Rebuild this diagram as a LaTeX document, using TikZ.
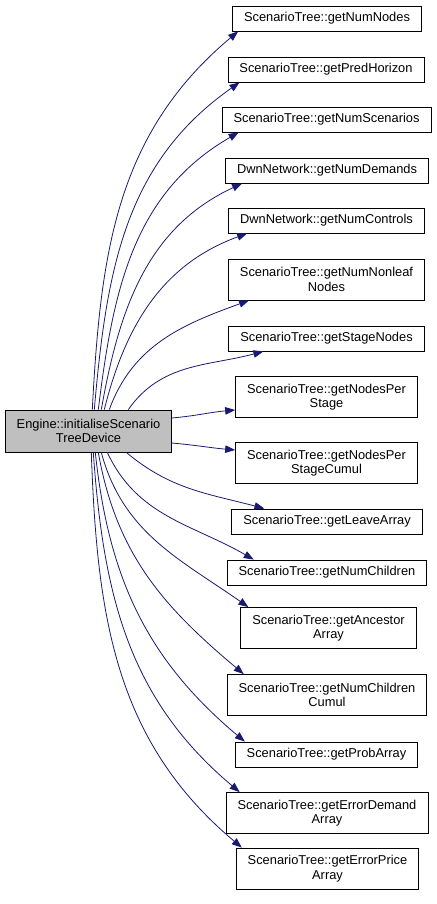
\documentclass[tikz,border=0pt]{standalone}
\usepackage{fontspec}
\setmainfont{Liberation Sans}
\usetikzlibrary{positioning,arrows.meta,calc}
\definecolor{callStroke}{HTML}{191970}
\definecolor{curFill}{HTML}{BFBFBF}
\definecolor{boxStroke}{HTML}{000000}

\begin{document}
\begin{tikzpicture}[
  x=1bp, y=1bp,
  font=\fontsize{12.9}{14.5}\selectfont,
  fn/.style={draw=boxStroke, fill=white, line width=0.8bp, inner xsep=11.5bp, inner ysep=2pt, minimum height=25bp, align=center},
  fntwo/.style={fn, minimum height=41bp},
  cur/.style={draw=boxStroke, fill=curFill, line width=0.8bp, inner xsep=11bp, minimum height=42bp, align=center},
  call/.style={-{Triangle[length=10bp,width=7.5bp]}, draw=callStroke, line width=0.8bp}
]
\useasboundingbox (0,0) rectangle (437,-904);

% ============================================================
% CALLER: the function whose call graph is drawn
% ============================================================
\node[cur] (init) at (88.5,-431) {Engine::initialiseScenario\\TreeDevice};

% ============================================================
% CALLEES (one column on the right)
% ============================================================
\node[fn] (numnodes) at (327,-18.5) {ScenarioTree::getNumNodes};
\node[fn] (predhor) at (326,-69.5) {ScenarioTree::getPredHorizon};
\node[fn] (numscen) at (326.5,-119.5) {ScenarioTree::getNumScenarios};
\node[fn] (numdem) at (327,-170.5) {DwnNetwork::getNumDemands};
\node[fn] (numctrl) at (326.5,-220.5) {DwnNetwork::getNumControls};
\node[fntwo] (nonleaf) at (326.5,-279.5) {ScenarioTree::getNumNonleaf\\Nodes};
\node[fn] (stagenodes) at (326.5,-338.5) {ScenarioTree::getStageNodes};
\node[fntwo] (perstage) at (326.5,-397) {ScenarioTree::getNodesPer\\Stage};
\node[fntwo] (perstagecum) at (326.5,-463) {ScenarioTree::getNodesPer\\StageCumul};
\node[fn] (leave) at (327,-521.5) {ScenarioTree::getLeaveArray};
\node[fn] (numchild) at (327,-572.5) {ScenarioTree::getNumChildren};
\node[fntwo] (ancestor) at (328.5,-628) {ScenarioTree::getAncestor\\Array};
\node[fntwo] (numchildcum) at (327,-695) {ScenarioTree::getNumChildren\\Cumul};
\node[fn] (prob) at (326.5,-754.5) {ScenarioTree::getProbArray};
\node[fntwo] (errdem) at (327,-813) {ScenarioTree::getErrorDemand\\Array};
\node[fntwo] (errprice) at (327.5,-868.5) {ScenarioTree::getErrorPrice\\Array};

% ============================================================
% CALLS leaving the top of the caller
% ============================================================
\draw[call] ([xshift=87bp]init.north west) to[out=87, in=220] ([xshift=6bp]numnodes.south west);
\draw[call] ([xshift=89bp]init.north west) to[out=85, in=215] ([xshift=12bp]predhor.south west);
\draw[call] ([xshift=93bp]init.north west) to[out=83, in=210] ([xshift=17bp]numscen.south west);
\draw[call] ([xshift=96bp]init.north west) to[out=80, in=205] ([xshift=17bp]numdem.south west);
\draw[call] ([xshift=99bp]init.north west) to[out=76, in=200] ([xshift=19bp]numctrl.south west);
\draw[call] ([xshift=104bp]init.north west) to[out=70, in=200] ([xshift=21bp]nonleaf.south west);
\draw[call] ([xshift=123bp]init.north west) to[out=55, in=195] ([xshift=35bp]stagenodes.south west);

% ============================================================
% CALLS leaving the right side
% ============================================================
\draw[call] ([yshift=13bp]init.east) to[out=5, in=185] ([yshift=-13bp]perstage.west);
\draw[call] ([yshift=-12bp]init.east) to[out=-5, in=175] ([yshift=13bp]perstagecum.west);

% ============================================================
% CALLS leaving the bottom of the caller
% ============================================================
\draw[call] ([xshift=121bp]init.south west) to[out=-40, in=165] ([xshift=33bp]leave.north west);
\draw[call] ([xshift=102bp]init.south west) to[out=-65, in=150] ([xshift=27bp]numchild.north west);
\draw[call] ([xshift=96bp]init.south west) to[out=-75, in=145] ([xshift=8bp]ancestor.north west);
\draw[call] ([xshift=93bp]init.south west) to[out=-80, in=140] ([xshift=17bp]numchildcum.north west);
\draw[call] ([xshift=90bp]init.south west) to[out=-84, in=140] ([xshift=10bp]prob.north west);
\draw[call] ([xshift=88bp]init.south west) to[out=-86, in=140] ([xshift=14bp]errdem.north west);
\draw[call] ([xshift=86bp]init.south west) to[out=-88, in=140] ([xshift=6bp]errprice.north west);

\end{tikzpicture}
\end{document}
